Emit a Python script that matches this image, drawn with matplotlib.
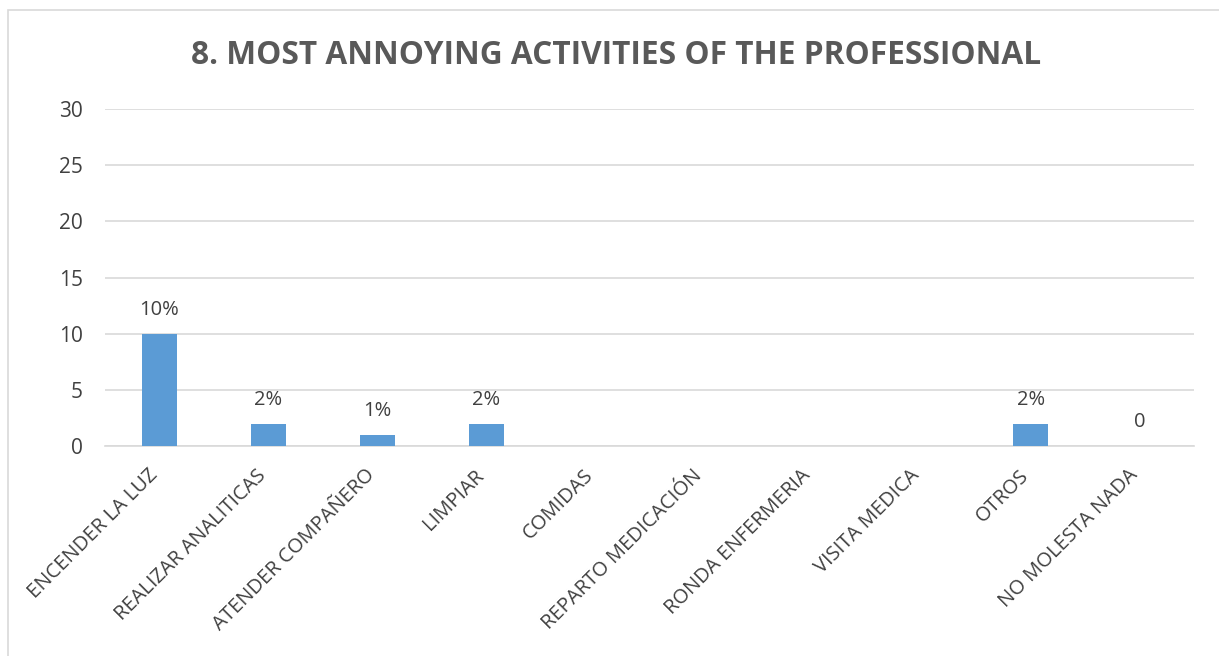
import numpy as np
import matplotlib
matplotlib.use("Agg")
import matplotlib.pyplot as plt
from matplotlib.patches import Rectangle
from matplotlib.transforms import ScaledTranslation

categories = ["ENCENDER LA LUZ", "REALIZAR ANALITICAS", "ATENDER COMPAÑERO", "LIMPIAR",
              "COMIDAS", "REPARTO MEDICACIÓN", "RONDA ENFERMERIA", "VISITA MEDICA",
              "OTROS", "NO MOLESTA NADA"]
values = [10, 2, 1, 2, 0, 0, 0, 0, 2, 0]
bar_labels = ["10%", "2%", "1%", "2%", "", "", "", "", "2%", "0"]
yticks = [0, 5, 10, 15, 20, 25, 30]

plt.rcParams['font.family'] = ['Open Sans', 'DejaVu Sans']
txt = "#404040"

fig = plt.figure(figsize=(12.19, 6.56), dpi=100)
ax = fig.add_axes([0.0861, 0.3201, 0.8934, 0.5137])

x = np.arange(len(categories))
ax.bar(x, values, width=0.32, color="#5B9BD5", zorder=3)
for xi, v, lab in zip(x, values, bar_labels):
    if lab:
        ax.annotate(lab, (xi, v), xytext=(0, 10), textcoords="offset points",
                    ha="center", va="bottom", fontsize=14.5, color=txt)

ax.set_xlim(-0.5, len(categories) - 0.5)
ax.set_ylim(0, 30)
ax.set_yticks(yticks)
ax.yaxis.grid(True, color="#D9D9D9", linewidth=1.2, zorder=0)
for s in ["top", "right", "left"]:
    ax.spines[s].set_visible(False)
ax.spines["bottom"].set_color("#D9D9D9")
ax.spines["bottom"].set_linewidth(1.2)
ax.tick_params(axis="both", length=0, colors=txt)
ax.tick_params(axis="y", pad=16, labelsize=15)
ax.set_xticks(x)
ax.set_xticklabels(categories, rotation=45, ha="right", rotation_mode="anchor",
                   fontsize=14.5, color=txt)
ax.tick_params(axis="x", pad=14)
shift = ScaledTranslation(-12 / 100, 0, fig.dpi_scale_trans)
for t in ax.get_xticklabels():
    t.set_transform(t.get_transform() + shift)

fig.text(0.505, 0.915, "8. MOST ANNOYING ACTIVITIES OF THE PROFESSIONAL",
         ha="center", va="center", fontsize=22.8, fontweight="bold", color="#595959")

fig.patches.append(Rectangle((0.0066, -0.01), 1.0, 0.995, transform=fig.transFigure,
                             fill=False, edgecolor="#D9D9D9", linewidth=1.2))

fig.savefig("out.png", dpi=100, facecolor="white")
